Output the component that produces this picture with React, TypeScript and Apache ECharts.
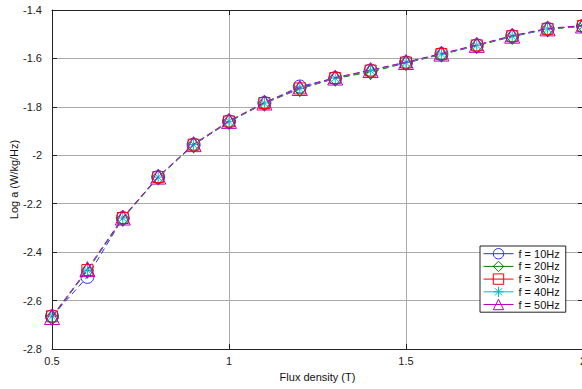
import React, { useEffect, useRef } from "react";
import * as echarts from "echarts";

const fluxDensity = [0.5, 0.6, 0.7, 0.8, 0.9, 1.0, 1.1, 1.2, 1.3, 1.4, 1.5, 1.6, 1.7, 1.8, 1.9, 2.0];
const f10 = [-2.665, -2.502, -2.259, -2.090, -1.956, -1.860, -1.784, -1.716, -1.681, -1.650, -1.617, -1.582, -1.546, -1.508, -1.478, -1.466];
const f20 = [-2.670, -2.476, -2.262, -2.092, -1.958, -1.862, -1.786, -1.726, -1.683, -1.656, -1.619, -1.584, -1.548, -1.510, -1.479, -1.467];
const f30 = [-2.665, -2.474, -2.259, -2.090, -1.956, -1.860, -1.784, -1.724, -1.681, -1.650, -1.617, -1.582, -1.546, -1.508, -1.478, -1.466];
const f40 = [-2.665, -2.474, -2.259, -2.090, -1.956, -1.860, -1.784, -1.724, -1.681, -1.650, -1.617, -1.582, -1.546, -1.508, -1.478, -1.466];
const f50 = [-2.668, -2.470, -2.257, -2.088, -1.954, -1.858, -1.782, -1.722, -1.679, -1.648, -1.615, -1.580, -1.544, -1.506, -1.476, -1.464];
const seriesNames = ["f = 10Hz", "f = 20Hz", "f = 30Hz", "f = 40Hz", "f = 50Hz"];
const xTicks = { min: 0.5, max: 2, interval: 0.5 };
const yTicks = { min: -2.8, max: -1.4, interval: 0.2 };

const FONT = "'Liberation Sans', Arial, Helvetica, sans-serif";
const ASTERISK =
  "path://M10,0L10,20M0,10L20,10M3,3L17,17M3,17L17,3";

export default function App() {
  const ref = useRef<HTMLDivElement>(null);
  useEffect(() => {
    if (!ref.current) return;
    const chart = echarts.init(ref.current, undefined, { renderer: "svg" });
    const all = [f10, f20, f30, f40, f50];
    const colors = ["#2a2aff", "#008000", "#ff0000", "#00bfbf", "#bf00bf"];
    const symbols = ["circle", "diamond", "rect", ASTERISK, "triangle"];
    const sizes: any[] = [13, [12, 15], 11, 10, 15];
    const series = all.map((vals, i) => ({
      name: seriesNames[i],
      type: "line",
      data: fluxDensity.map((x, j) => [x, vals[j]]),
      symbol: symbols[i],
      symbolSize: sizes[i],
      showSymbol: true,
      itemStyle: {
        color: "rgba(255,255,255,0)",
        borderColor: colors[i],
        borderWidth: 1,
      },
      lineStyle: { color: colors[i], width: 1, type: [6, 4] },
      emphasis: { disabled: true },
      z: 2 + i,
    }));
    chart.setOption({
      animation: false,
      textStyle: { fontFamily: FONT },
      grid: { left: 52, top: 10, right: -1, bottom: 40, containLabel: false, outerBoundsMode: "none" },
      legend: {
        orient: "vertical",
        left: 480,
        top: 246,
        itemWidth: 30,
        itemHeight: 13,
        itemGap: 1.3,
        padding: [2, 6, 2, 3],
        borderColor: "#222",
        borderWidth: 1,
        backgroundColor: "#fff",
        textStyle: { fontSize: 11, color: "#111", fontFamily: FONT },
        lineStyle: { type: "solid", width: 1 },
        itemStyle: { borderWidth: 1 },
        data: seriesNames,
      },
      xAxis: [
        {
          type: "value",
          min: xTicks.min,
          max: xTicks.max,
          interval: xTicks.interval,
          name: "Flux density (T)",
          nameLocation: "middle",
          nameGap: 22,
          nameMoveOverlap: false,
          nameTextStyle: { fontSize: 11, color: "#111" },
          axisLine: { show: true, onZero: false, lineStyle: { color: "#222", width: 1 } },
          axisTick: { show: true, inside: true, length: 5, lineStyle: { color: "#222" } },
          axisLabel: { fontSize: 11, color: "#222", margin: 6 },
          splitLine: { show: true, lineStyle: { color: "#aaaaaa", width: 1 } },
        },
        {
          type: "value",
          position: "top",
          min: xTicks.min,
          max: xTicks.max,
          interval: xTicks.interval,
          axisLine: { show: true, onZero: false, lineStyle: { color: "#222", width: 1 } },
          axisTick: { show: true, inside: true, length: 5, lineStyle: { color: "#222" } },
          axisLabel: { show: false },
          splitLine: { show: false },
        },
      ],
      yAxis: [
        {
          type: "value",
          min: yTicks.min,
          max: yTicks.max,
          interval: yTicks.interval,
          name: "Log a (W/kg/Hz)",
          nameLocation: "middle",
          nameGap: 33,
          nameMoveOverlap: false,
          nameTextStyle: { fontSize: 11, color: "#111" },
          axisLine: { show: true, onZero: false, lineStyle: { color: "#222", width: 1 } },
          axisTick: { show: true, inside: true, length: 5, lineStyle: { color: "#222" } },
          axisLabel: {
            fontSize: 11,
            color: "#222",
            margin: 10,
            formatter: (v: number) => String(Math.round(v * 10) / 10),
          },
          splitLine: { show: true, lineStyle: { color: "#aaaaaa", width: 1 } },
        },
        {
          type: "value",
          position: "right",
          min: yTicks.min,
          max: yTicks.max,
          interval: yTicks.interval,
          axisLine: { show: true, onZero: false, lineStyle: { color: "#222", width: 1 } },
          axisTick: { show: true, inside: true, length: 5, lineStyle: { color: "#222" } },
          axisLabel: { show: false },
          splitLine: { show: false },
        },
      ],
      series,
    });
    return () => chart.dispose();
  }, []);
  return (
    <div
      ref={ref}
      style={{ position: "fixed", left: 0, top: 0, width: 582, height: 389, background: "#fff" }}
    />
  );
}
